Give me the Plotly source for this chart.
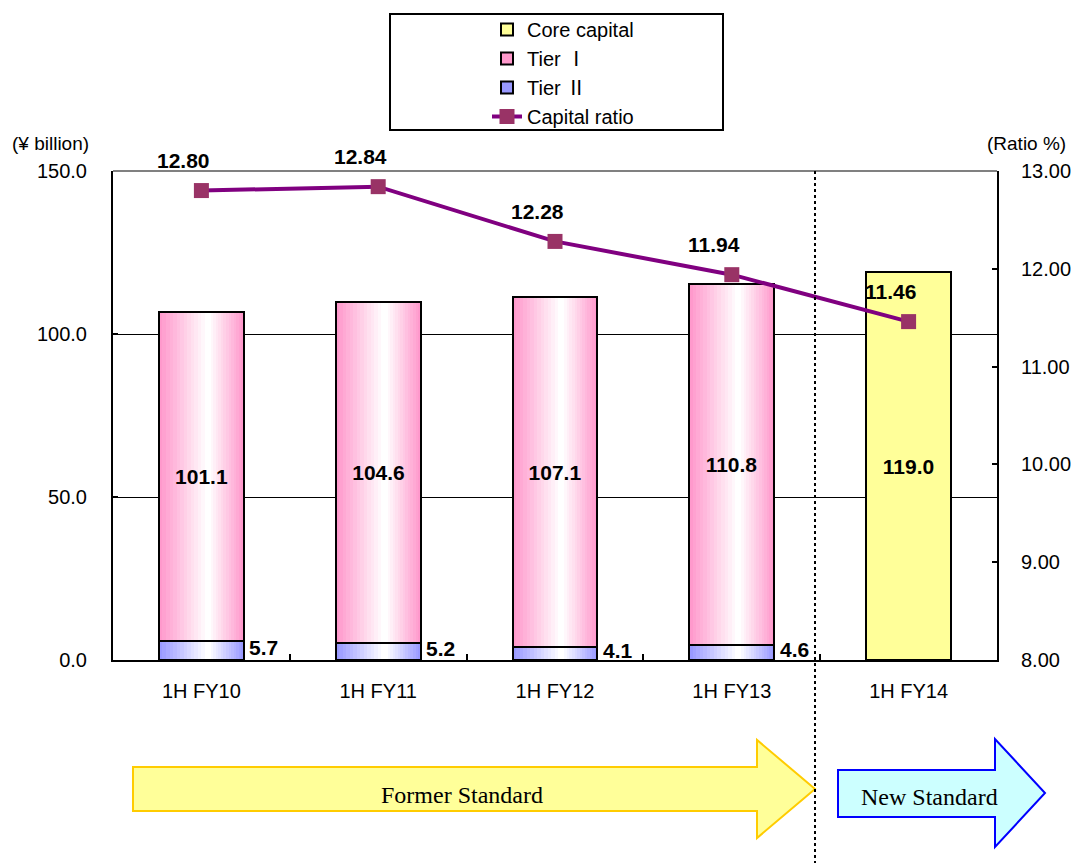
import plotly.graph_objects as go

# ---- data -------------------------------------------------------------
periods = ["1H FY10", "1H FY11", "1H FY12", "1H FY13", "1H FY14"]
tier1 = [101.1, 104.6, 107.1, 110.8, None]
tier2 = [5.7, 5.2, 4.1, 4.6, None]
core_capital = [None, None, None, None, 119.0]
capital_ratio = [12.80, 12.84, 12.28, 11.94, 11.46]

# ---- geometry / style -------------------------------------------------
FIG_W, FIG_H = 1071, 863
PLOT_L, PLOT_R, PLOT_T, PLOT_B = 113, 997, 171, 660
BAR_W = 0.48
STEPS = 14
WHITE_POS = 0.58   # fraction of width where the gradient is lightest

PINK = (255, 153, 204)
BLUE = (153, 153, 255)
YELLOW = "#FFFF99"
FONT = "Liberation Sans, Arial, sans-serif"
SERIF = "Liberation Serif, Times New Roman, serif"
NUMERAL = '<span style="font-family:\'Noto Sans CJK JP\'">{}</span>'


def px(x, y):
    """Convert page pixel position to paper coordinates."""
    return ((x - PLOT_L) / (PLOT_R - PLOT_L), (PLOT_B - y) / (PLOT_B - PLOT_T))


def mix(rgb, t):
    r, g, b = (round(c + (255 - c) * t) for c in rgb)
    return f"rgb({r},{g},{b})"


def gradient_bar(values, base, edge, name, rank):
    """Horizontal edge-to-centre gradient built from nested overlay bars."""
    traces = []
    for k in range(STEPS):
        frac = k / STEPS
        traces.append(go.Bar(
            x=periods, y=values, base=base,
            width=BAR_W * (1 - frac),
            offset=-BAR_W / 2 + frac * WHITE_POS * BAR_W,
            marker=dict(color=mix(edge, k / (STEPS - 1)),
                        line=dict(color="black", width=2 if k == 0 else 0)),
            name=name, showlegend=(k == 0), legendrank=rank,
            hoverinfo="skip",
        ))
    return traces


fig = go.Figure()

# Tier II (bottom) and Tier I (stacked on Tier II)
for tr in gradient_bar(tier2, None, BLUE, "Tier " + NUMERAL.format("Ⅱ"), 3):
    fig.add_trace(tr)
for tr in gradient_bar(tier1, tier2, PINK, "Tier " + NUMERAL.format("Ⅰ"), 2):
    fig.add_trace(tr)

# crisp outlines on top of the gradient layers
fig.add_trace(go.Bar(
    x=periods, y=tier2, width=BAR_W, offset=-BAR_W / 2,
    marker=dict(color="rgba(0,0,0,0)", line=dict(color="black", width=2)),
    showlegend=False, hoverinfo="skip",
))
fig.add_trace(go.Bar(
    x=periods, y=tier1, base=tier2, width=BAR_W, offset=-BAR_W / 2,
    marker=dict(color="rgba(0,0,0,0)", line=dict(color="black", width=2)),
    texttemplate="<b>%{value:.1f}</b>", textposition="inside",
    insidetextanchor="middle", textangle=0,
    textfont=dict(family=FONT, size=21, color="black"),
    showlegend=False, hoverinfo="skip",
))

# Core capital (new standard)
fig.add_trace(go.Bar(
    x=periods, y=core_capital, width=BAR_W, offset=-BAR_W / 2,
    marker=dict(color=YELLOW, line=dict(color="black", width=2)),
    texttemplate="<b>%{y:.1f}</b>", textposition="inside",
    insidetextanchor="middle", textangle=0,
    textfont=dict(family=FONT, size=21, color="black"),
    name="Core capital", legendrank=1, hoverinfo="skip",
))

# Capital ratio line on the right axis
fig.add_trace(go.Scatter(
    x=periods, y=capital_ratio, yaxis="y2", mode="lines+markers",
    line=dict(color="#800080", width=4),
    marker=dict(symbol="square", size=15, color="#993366"),
    name="Capital ratio", legendrank=4, hoverinfo="skip",
))

annotations = []
# Tier II values sit just right of each bar
for p, v in zip(periods, tier2):
    if v is not None:
        annotations.append(dict(
            x=p, y=v / 2, xref="x", yref="y", text=f"<b>{v:.1f}</b>",
            showarrow=False, xanchor="left", yanchor="middle", xshift=46, yshift=3,
            font=dict(family=FONT, size=21, color="black"),
        ))
# ratio values above the markers
for p, r in zip(periods, capital_ratio):
    annotations.append(dict(
        x=p, y=r, xref="x", yref="y2", text=f"<b>{r:.2f}</b>",
        showarrow=False, xanchor="center", yanchor="middle", xshift=-18, yshift=30,
        font=dict(family=FONT, size=21, color="black"),
    ))


def caption(x, y, text, family, size):
    cx, cy = px(x, y)
    return dict(x=cx, y=cy, xref="paper", yref="paper", text=text, showarrow=False,
                xanchor="center", yanchor="middle",
                font=dict(family=family, size=size, color="black"))


annotations += [
    caption(50, 143, "(¥ billion)", FONT, 19),
    caption(1026, 143, "(Ratio %)", FONT, 19),
    caption(462, 795, "Former Standard", SERIF, 24),
    caption(929, 797, "New Standard", SERIF, 24),
]


def path(points):
    pts = [px(x, y) for x, y in points]
    return "M " + " L ".join(f"{a:.5f},{b:.5f}" for a, b in pts) + " Z"


shapes = [
    # top frame edge
    dict(type="line", xref="paper", yref="paper", x0=0, x1=1, y0=1, y1=1,
         line=dict(color="#808080", width=2)),
    # divider between former and new standard
    dict(type="line", xref="paper", yref="paper",
         x0=px(815, 0)[0], x1=px(815, 0)[0], y0=1, y1=px(0, 863)[1],
         line=dict(color="black", width=2, dash="dot")),
    # legend frame
    dict(type="rect", xref="paper", yref="paper",
         x0=px(390, 0)[0], x1=px(723, 0)[0], y0=px(0, 14)[1], y1=px(0, 130)[1],
         line=dict(color="black", width=2), fillcolor="white", layer="below"),
    # former standard arrow
    dict(type="path", xref="paper", yref="paper",
         path=path([(133, 767), (757, 767), (757, 740), (815, 789),
                    (757, 838), (757, 811), (133, 811)]),
         fillcolor="#FFFF99", line=dict(color="#FFCC00", width=2), layer="below"),
    # new standard arrow
    dict(type="path", xref="paper", yref="paper",
         path=path([(838, 770), (995, 770), (995, 739), (1045, 793),
                    (995, 847), (995, 817), (838, 817)]),
         fillcolor="#CCFFFF", line=dict(color="#0000FF", width=2), layer="below"),
]

lx, ly = px(487, 10)
fig.update_layout(
    width=FIG_W, height=FIG_H,
    margin=dict(l=PLOT_L, r=FIG_W - PLOT_R, t=PLOT_T, b=FIG_H - PLOT_B, autoexpand=False),
    paper_bgcolor="white", plot_bgcolor="rgba(0,0,0,0)",
    barmode="overlay", bargap=0,
    font=dict(family=FONT, size=20, color="black"),
    showlegend=True,
    legend=dict(x=lx, y=ly, xanchor="left", yanchor="top",
                bgcolor="rgba(0,0,0,0)", borderwidth=0,
                font=dict(family=FONT, size=20, color="black"),
                tracegroupgap=0, itemclick=False),
    xaxis=dict(type="category", range=[-0.5, 4.5], tickson="boundaries",
               ticks="inside", ticklen=6, tickwidth=2, tickcolor="black",
               showline=True, linecolor="black", linewidth=2,
               showgrid=False, zeroline=False, ticklabelstandoff=12,
               tickfont=dict(size=20)),
    yaxis=dict(range=[0, 150], tickvals=[0, 50, 100, 150], tickformat=".1f",
               ticks="inside", ticklen=5, tickwidth=2, tickcolor="black",
               showline=True, linecolor="black", linewidth=2,
               showgrid=True, gridcolor="black", gridwidth=1, zeroline=False,
               ticklabelstandoff=20, tickfont=dict(size=20)),
    yaxis2=dict(overlaying="y", side="right", range=[8, 13], dtick=1, tickformat=".2f",
                ticks="inside", ticklen=5, tickwidth=2, tickcolor="black",
                showline=True, linecolor="black", linewidth=2,
                showgrid=False, zeroline=False, ticklabelstandoff=18,
                tickfont=dict(size=20)),
    annotations=annotations,
    shapes=shapes,
)

fig.write_html("out.html")
